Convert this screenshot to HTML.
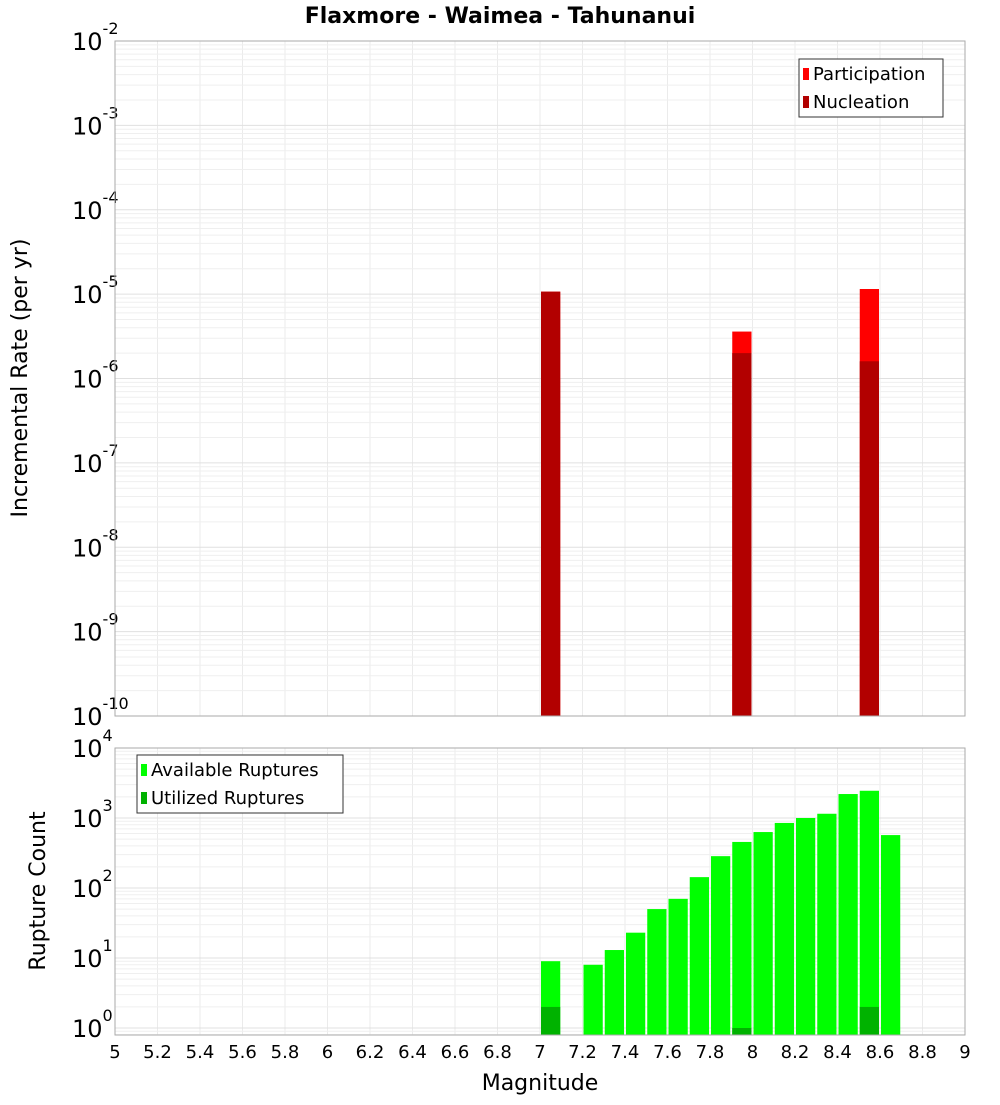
<!DOCTYPE html>
<html><head><meta charset="utf-8"><style>
body{margin:0;background:#fff;}
svg text{font-family:"DejaVu Sans","Liberation Sans",sans-serif;fill:#000;}
</style></head><body>
<svg id="chart" width="1000" height="1100" xmlns="http://www.w3.org/2000/svg">
<text x="500" y="23" text-anchor="middle" font-size="22" font-weight="bold">Flaxmore - Waimea - Tahunanui</text>
<g id="topPlot"></g>
<g id="botPlot"></g>
<text transform="translate(27,378) rotate(-90)" text-anchor="middle" font-size="22">Incremental Rate (per yr)</text>
<text transform="translate(45,891) rotate(-90)" text-anchor="middle" font-size="22">Rupture Count</text>
<text x="540" y="1090" text-anchor="middle" font-size="22">Magnitude</text>
</svg>
<script>
const partMags=[7.05,7.95,8.55];
const partVals=[1.07e-5,3.6e-6,1.15e-5];
const nuclMags=[7.05,7.95,8.55];
const nuclVals=[1.07e-5,2.0e-6,1.6e-6];
const availMags=[7.05,7.25,7.35,7.45,7.55,7.65,7.75,7.85,7.95,8.05,8.15,8.25,8.35,8.45,8.55,8.65];
const availVals=[9,8,13,23,50,70,143,285,455,630,850,1000,1150,2200,2450,570];
const usedMags=[7.05,7.95,8.55];
const usedVals=[2,1,2];
const xTicks=[5,5.2,5.4,5.6,5.8,6,6.2,6.4,6.6,6.8,7,7.2,7.4,7.6,7.8,8,8.2,8.4,8.6,8.8,9];
const topExps=[-2,-3,-4,-5,-6,-7,-8,-9,-10];
const botExps=[4,3,2,1,0];

const NS="http://www.w3.org/2000/svg";
const L=115,R=965;
const xS=m=>L+(m-5)/4*(R-L);
const T1=41,B1=716;
const yTop=v=>T1+(-2-Math.log10(v))/8*(B1-T1);
const T2=748,B2=1035,DEC=70;
const yBot=v=>1028-Math.log10(v)*DEC;
function mk(p,tag,at){const e=document.createElementNS(NS,tag);for(const k in at)e.setAttribute(k,at[k]);p.appendChild(e);return e;}
const topG=document.getElementById('topPlot'),botG=document.getElementById('botPlot');

function grid(g,T,B,yf,lo,hi){
  for(const t of xTicks){const l=mk(g,'line',{x1:xS(t),x2:xS(t),y1:T,y2:B,stroke:'#ebebeb'});
  
  }
  for(let e=lo;e<hi;e++)for(let k=1;k<10;k++){const yy=yf(k*Math.pow(10,e));if(yy<T||yy>B)continue;
    const l=mk(g,'line',{x1:L,x2:R,y1:yy,y2:yy,stroke:k==1?'#e0e0e0':'#efefef'});
    
    }
}
grid(topG,T1,B1,yTop,-10,-2);
grid(botG,T2,B2,yBot,-1,4);

function bar(g,m,v,yf,B,col,name){
  const yy=Math.max(yf(v),0);
  const r=mk(g,'rect',{x:xS(m-0.05)+1,y:yy,width:xS(m+0.05)-xS(m-0.05)-2,height:Math.max(B-yy,0),fill:col});
  
  
}
partMags.forEach((m,i)=>bar(topG,m,partVals[i],yTop,B1,'#ff0000','participation-bar'));
nuclMags.forEach((m,i)=>bar(topG,m,nuclVals[i],yTop,B1,'#b20000','nucleation-bar'));
availMags.forEach((m,i)=>bar(botG,m,availVals[i],yBot,B2,'#00ff00','available-ruptures-bar'));
usedMags.forEach((m,i)=>bar(botG,m,usedVals[i],yBot,B2,'#00b200','utilized-ruptures-bar'));

[[T1,B1,'top-plot-frame'],[T2,B2,'bottom-plot-frame']].forEach(([t,b,n])=>{
  const r=mk(document.getElementById('chart'),'rect',{x:L,y:t,width:R-L,height:b-t,fill:'none',stroke:'#aaa'});
  
  
});

topExps.forEach(e=>{const yy=yTop(Math.pow(10,e));
  const t=mk(topG,'text',{x:72,y:yy+9,'font-size':24});
  
  
  t.textContent='10';
  const s=mk(t,'tspan',{dy:-16,'font-size':16});s.textContent=String(e);});
botExps.forEach(e=>{const yy=yBot(Math.pow(10,e));
  const t=mk(botG,'text',{x:72,y:yy+9,'font-size':24});
  
  
  t.textContent='10';
  const s=mk(t,'tspan',{dy:-16,'font-size':16});s.textContent=String(e);});
xTicks.forEach(v=>{const t=mk(botG,'text',{x:xS(v),y:1058,'text-anchor':'middle','font-size':18});
  
  
  t.textContent=String(v);});

function legend(g,x0,y0,w,items,name){
  const r=mk(g,'rect',{x:x0,y:y0,width:w,height:58,fill:'#fff',stroke:'#333'});
  
  
  items.forEach(([lab,col],i)=>{
    const yy=y0+15+i*28;
    const sw=mk(g,'rect',{x:x0+4,y:yy-6,width:6,height:12,fill:col});
    
    
    const t=mk(g,'text',{x:x0+14,y:yy+6,'font-size':18});
    
    
    t.textContent=lab;});
}
legend(topG,799,59,144,[['Participation','#ff0000'],['Nucleation','#b20000']],'top-legend');
legend(botG,137,755,206,[['Available Ruptures','#00ff00'],['Utilized Ruptures','#00b200']],'bottom-legend');
</script>
</body></html>
